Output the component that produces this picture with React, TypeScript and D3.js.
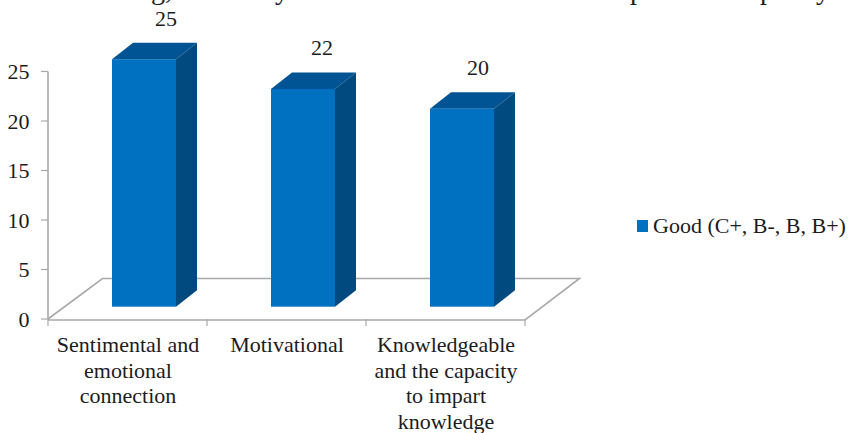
import React from "react";
import * as d3 from "d3";

// Survey counts per teacher quality, rated "Good".
const categories = [
  ["Sentimental and", "emotional", "connection"],
  ["Motivational"],
  ["Knowledgeable", "and the capacity", "to impart", "knowledge"],
];
const values = [25, 22, 20];
const yTicks = [0, 5, 10, 15, 20, 25];
const legendLabel = "Good (C+, B-, B, B+)";
const clippedWords = [
  { text: "g,", x: 151 },
  { text: "y", x: 275 },
  { text: "p", x: 630 },
  { text: "p", x: 760 },
  { text: "y", x: 816 },
];

const FONT = "'Liberation Serif', 'Times New Roman', serif";
const INK = "#1c1c1c";
const AXIS = "#a9a9a9";
const FRONT = "#0070c0";
const TOP = "#005494";
const SIDE = "#004a80";

// Oblique offset of the 3-D box depth.
const DX = 21;
const DY = -16.5;
const FLOOR_DY = -40.5;
const FLOOR_DX = 54.5;
const BAR_W = 64;
const BAR_LIFT = 12;
const FONT_SIZE = 22;

export default function App() {
  const y = d3.scaleLinear().domain([0, 25]).range([319, 71.5]);
  const x = d3.scaleBand<number>().domain([0, 1, 2]).range([48, 525]);
  const line = d3.line();
  const heightOf = (v: number) => y(0) - y(v);
  const bottom = y(0) - BAR_LIFT - 0.3;

  return (
    <svg
      width={850}
      height={433}
      viewBox="0 0 850 433"
      style={{ position: "absolute", left: 0, top: 0, background: "#fff" }}
      fontFamily={FONT}
      fill={INK}
    >
      {/* descenders of the running text line cut by the top edge */}
      {clippedWords.map((w, i) => (
        <text key={i} x={w.x} y={-1} fontSize={28}>
          {w.text}
        </text>
      ))}

      {/* floor of the plot */}
      <path
        d={
          line([
            [x.range()[0], y(0)],
            [x.range()[0] + FLOOR_DX, y(0) + FLOOR_DY],
            [x.range()[1] + FLOOR_DX, y(0) + FLOOR_DY],
            [x.range()[1], y(0) + 1],
            [x.range()[0], y(0) + 1],
          ]) ?? ""
        }
        fill="none"
        stroke={AXIS}
        strokeWidth={1.6}
      />

      {/* value axis */}
      <line x1={48} x2={48} y1={y(25)} y2={y(0)} stroke={AXIS} strokeWidth={1.6} />
      {yTicks.map((t) => (
        <g key={t}>
          <line x1={41} x2={48} y1={y(t)} y2={y(t)} stroke={AXIS} strokeWidth={1.2} />
          <text x={29.5} y={y(t) + 7.5} fontSize={FONT_SIZE} textAnchor="end">
            {t}
          </text>
        </g>
      ))}

      {/* category ticks */}
      {[0, 1, 2, 3].map((i) => {
        const tx = 48 + i * x.bandwidth();
        return <line key={i} x1={tx} x2={tx} y1={y(0)} y2={y(0) + 7} stroke={AXIS} strokeWidth={1.2} />;
      })}

      {/* boxes */}
      {values.map((v, i) => {
        const x0 = (x(i) ?? 0) + 64;
        const top = bottom - heightOf(v);
        const x1 = x0 + BAR_W;
        return (
          <g key={i}>
            <path
              d={(line([[x0, top], [x0 + DX, top + DY], [x1 + DX, top + DY], [x1, top]]) ?? "") + "Z"}
              fill={TOP}
            />
            <path
              d={(line([[x1, top], [x1 + DX, top + DY], [x1 + DX, bottom + DY], [x1, bottom]]) ?? "") + "Z"}
              fill={SIDE}
            />
            <rect x={x0} y={top} width={BAR_W} height={bottom - top} fill={FRONT} />
            <text x={x0 + BAR_W / 2 + 22 - 3 * i} y={top + DY - 17} textAnchor="middle" fontSize={FONT_SIZE}>
              {v}
            </text>
          </g>
        );
      })}

      {/* category labels */}
      {categories.map((lines, i) => {
        const cx = (x(i) ?? 0) + x.bandwidth() / 2 + 0.5;
        return (
          <text key={i} textAnchor="middle" fontSize={FONT_SIZE}>
            {lines.map((l, j) => (
              <tspan key={j} x={cx} y={352 + j * 25.5}>
                {l}
              </tspan>
            ))}
          </text>
        );
      })}

      {/* legend */}
      <rect x={637} y={220} width={11} height={12} fill={FRONT} />
      <text x={653} y={233} fontSize={FONT_SIZE}>
        {legendLabel}
      </text>
    </svg>
  );
}
